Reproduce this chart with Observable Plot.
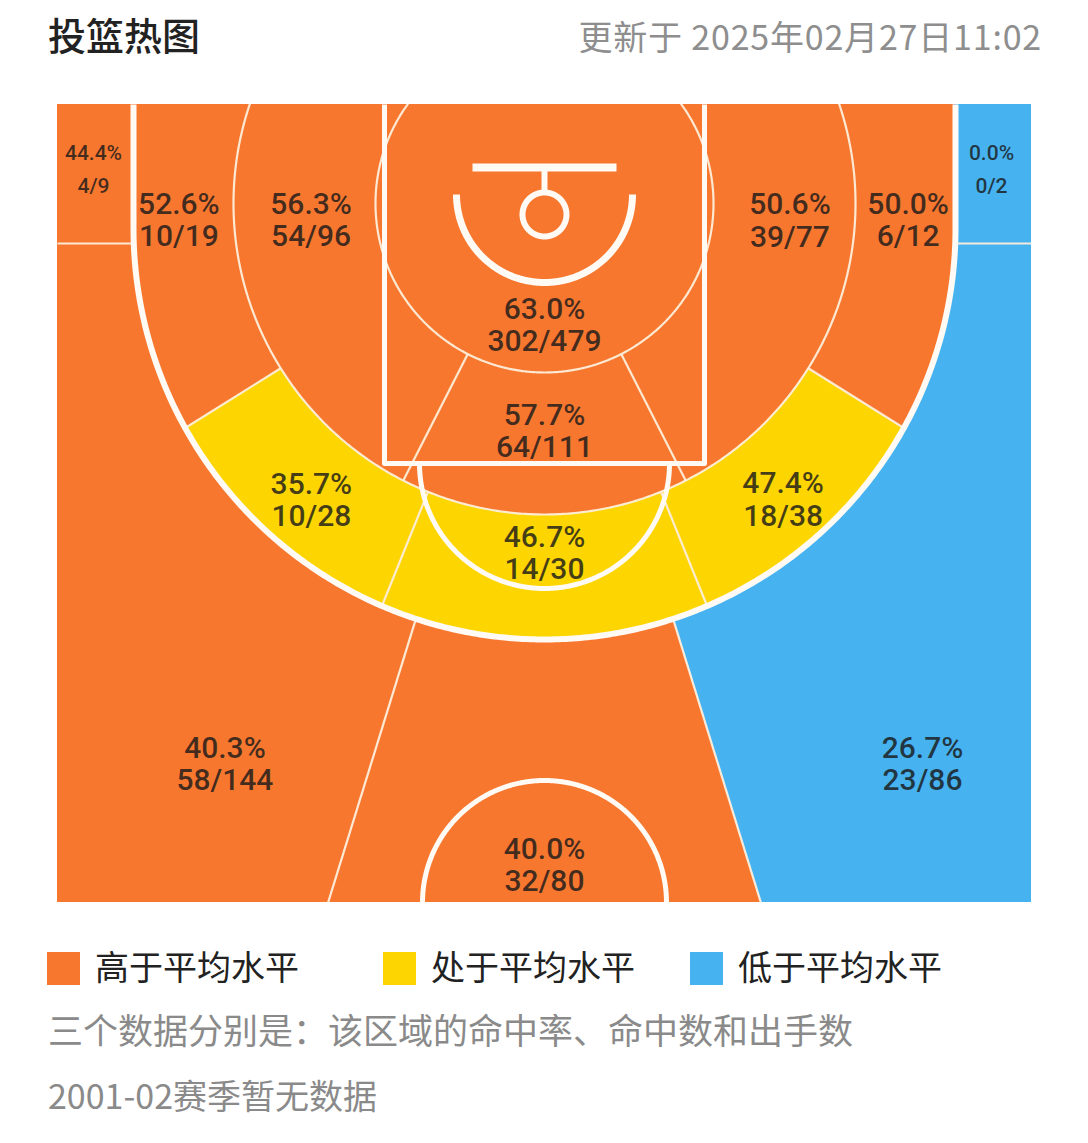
<!DOCTYPE html>
<html><head><meta charset="utf-8">
<script src="https://cdn.jsdelivr.net/npm/d3@7"></script>
<script src="https://cdn.jsdelivr.net/npm/@observablehq/plot@0.6"></script>
<style>
body{margin:0;background:#fff;}
#page{position:relative;width:1088px;height:1143px;overflow:hidden;font-family:"Noto Sans CJK SC","Noto Sans",sans-serif;}
.abs{position:absolute;white-space:nowrap;line-height:50px;}
#chart{position:absolute;left:0;top:80px;}
.sw{position:absolute;width:33px;height:33px;top:952px;}
</style></head>
<body><div id="page">
<div class="abs" style="left:48px;top:9px;font-size:38px;font-weight:500;color:#222;">投篮热图</div>
<div class="abs" style="right:46px;top:11px;font-size:34px;letter-spacing:0.8px;color:#8e8e8e;">更新于 2025年02月27日11:02</div>
<div id="chart"></div>
<div id="legend"></div>
<div class="abs" style="left:48px;top:1004px;font-size:35px;color:#8a8a8a;">三个数据分别是：该区域的命中率、命中数和出手数</div>
<div class="abs" style="left:48px;top:1070px;font-size:34px;color:#8a8a8a;">2001-02赛季暂无数据</div>
</div>
<script>
// ---------- data ----------
const zoneNames = ["左侧底角三分","左侧底线中投","左侧近距离","篮下","右侧近距离","右侧底线中投","右侧底角三分","罚球区","左侧45度中投","正面中投","右侧45度中投","左侧45度三分","正面三分","右侧45度三分"];
const pctLabels = ["44.4%","52.6%","56.3%","63.0%","50.6%","50.0%","0.0%","57.7%","35.7%","46.7%","47.4%","40.3%","40.0%","26.7%"];
const made      = [4, 10, 54, 302, 39, 6, 0, 64, 10, 14, 18, 58, 32, 23];
const attempts  = [9, 19, 96, 479, 77, 12, 2, 111, 28, 30, 38, 144, 80, 86];
const zoneLevel = ["高于平均水平","高于平均水平","高于平均水平","高于平均水平","高于平均水平","高于平均水平","低于平均水平","高于平均水平","处于平均水平","处于平均水平","处于平均水平","高于平均水平","高于平均水平","低于平均水平"];
const levelNames  = ["高于平均水平","处于平均水平","低于平均水平"];
const levelColors = ["#F8772F","#FDD500","#46B2F0"];

// ---------- court geometry (court units) ----------
const HALF_W = 487, LEN = 798;
const HOOP = [0, 99];
const R_A = 169, R_M = 311;
const ARC_C = [0, 124], ARC_R = 411, CORNER_Y = 139, FAR = 1400;
const A_PAINT = 27, A_MID = 22, A_SIDE = 58, A_LONG = 17.2;
const PAINT_HW = 160, PAINT_L = 359, FT_R = 125, RESTR_C = [0, 90], RESTR_R = 88;
const BOARD_Y = 63, BOARD_HW = 72, RIM_C = [0, 110], RIM_R = 22, CENTER_R = 122;

const rad = d => d * Math.PI / 180;
function pt(r, deg, c = HOOP) { const a = rad(deg); return [c[0] + r * Math.sin(a), c[1] + r * Math.cos(a)]; }
function outer3(deg) {
  const a = rad(deg), s = Math.sin(a), c = Math.cos(a);
  const dC = HOOP[1] - ARC_C[1];
  const b = c * dC;
  let t = -b + Math.sqrt(b * b - (dC * dC - ARC_R * ARC_R));
  if (HOOP[1] + t * c < ARC_C[1]) t = Math.abs(s) > 1e-9 ? ARC_R / Math.abs(s) : Infinity;
  if (c < 0) t = Math.min(t, HOOP[1] / (-c));
  return t;
}
const outerFns = {
  far: () => FAR,
  three: outer3,
  mid: deg => { const c = Math.cos(rad(deg)); return c < 0 ? Math.min(R_M, HOOP[1] / (-c)) : R_M; },
  rim: () => R_A
};
const layerOf = {far: 0, rect: 1, three: 2, mid: 3, rim: 4};
const shapes = {
  "左侧底角三分": {kind: "rect", box: [-HALF_W, -ARC_R, 0, CORNER_Y], small: true},
  "右侧底角三分": {kind: "rect", box: [ARC_R, HALF_W, 0, CORNER_Y], small: true},
  "左侧底线中投": {kind: "three", t: [-180, -A_SIDE], lab: [366, -87.4]},
  "左侧近距离":   {kind: "mid", t: [-180, -A_PAINT], lab: [234, -86]},
  "篮下":         {kind: "rim", t: [-180, 180], lab: [121, 0]},
  "右侧近距离":   {kind: "mid", t: [A_PAINT, 180], lab: [246, 86.1]},
  "右侧底线中投": {kind: "three", t: [A_SIDE, 180], lab: [364, 87.4]},
  "罚球区":       {kind: "mid", t: [-A_PAINT, A_PAINT], lab: [227, 0]},
  "左侧45度中投": {kind: "three", t: [-A_SIDE, -A_MID], lab: [377, -38.2]},
  "正面中投":     {kind: "three", t: [-A_MID, A_MID], lab: [349, 0]},
  "右侧45度中投": {kind: "three", t: [A_MID, A_SIDE], lab: [380, 38.9]},
  "左侧45度三分": {kind: "far", t: [-180, -A_LONG], lab: [645, -29.7]},
  "正面三分":     {kind: "far", t: [-A_LONG, A_LONG], lab: [661, 0]},
  "右侧45度三分": {kind: "far", t: [A_LONG, 180], lab: [676, 34]}
};

const zones = zoneNames.map((name, i) => ({name, pct: pctLabels[i], made: made[i], att: attempts[i], level: zoneLevel[i], shape: shapes[name]}));

// polygon rows
const layers = [[], [], [], [], []];
for (const z of zones) {
  const s = z.shape;
  let verts, anchor;
  if (s.kind === "rect") {
    const [x0, x1, y0, y1] = s.box;
    verts = [[x0, y0], [x1, y0], [x1, y1], [x0, y1]];
    anchor = verts[0];
  } else {
    const fn = outerFns[s.kind];
    const n = Math.max(2, Math.ceil((s.t[1] - s.t[0]) / 0.25));
    verts = d3.range(n + 1).map(k => { const d = s.t[0] + (s.t[1] - s.t[0]) * k / n; return pt(fn(d), d); });
    anchor = HOOP;
  }
  for (const v of verts) layers[layerOf[s.kind]].push({zone: z.name, level: z.level, x: v[0], y: v[1], cx: anchor[0], cy: anchor[1]});
}

// labels
const labels = zones.map(z => {
  const s = z.shape;
  const p = s.kind === "rect" ? [(s.box[0] + s.box[1]) / 2 - 2, (s.box[2] + s.box[3]) * 0.44] : pt(s.lab[0], s.lab[1]);
  return {x: p[0], y: p[1], text: `${z.pct}\n${z.made}/${z.att}`, small: !!s.small};
});

// thin zone boundaries
const thin = [];
let sid = 0;
function addPath(arr, pts) { const id = sid++; for (const p of pts) arr.push({id, x: p[0], y: p[1]}); }
function arcPts(c, r, d0, d1) { const n = Math.ceil(Math.abs(d1 - d0) / 0.5); return d3.range(n + 1).map(k => pt(r, d0 + (d1 - d0) * k / n, c)); }
addPath(thin, arcPts(HOOP, R_A, -180, 180));
addPath(thin, arcPts(HOOP, R_M, -180, 180));
for (const sg of [-1, 1]) {
  addPath(thin, [pt(R_A, sg * A_PAINT), pt(R_M, sg * A_PAINT)]);
  for (const a of [A_MID, A_SIDE]) addPath(thin, [pt(R_M, sg * a), pt(outer3(sg * a), sg * a)]);
  addPath(thin, [pt(outer3(sg * A_LONG), sg * A_LONG), pt((LEN - HOOP[1]) / Math.cos(rad(A_LONG)), sg * A_LONG)]);
  const xc = Math.sqrt(ARC_R * ARC_R - (CORNER_Y - ARC_C[1]) ** 2);
  addPath(thin, [[sg * HALF_W, CORNER_Y], [sg * xc, CORNER_Y]]);
}

// court markings
const three = [], paint = [], restr = [], board = [], rim = [];
addPath(three, [[-ARC_R, 0], [-ARC_R, ARC_C[1]], ...arcPts(ARC_C, ARC_R, -90, 90), [ARC_R, ARC_C[1]], [ARC_R, 0]]);
addPath(paint, [[-PAINT_HW, 0], [-PAINT_HW, PAINT_L], [PAINT_HW, PAINT_L], [PAINT_HW, 0]]);
addPath(paint, arcPts([0, PAINT_L], FT_R, -90, 90));
addPath(paint, arcPts([0, LEN], CENTER_R, 90, 270));
addPath(restr, arcPts(RESTR_C, RESTR_R, -90, 90));
addPath(board, [[-BOARD_HW, BOARD_Y], [BOARD_HW, BOARD_Y]]);
addPath(rim, [[0, BOARD_Y], [0, RIM_C[1] - RIM_R]]);
addPath(rim, arcPts(RIM_C, RIM_R, -180, 180));

const W = "#fffaf3";
const areaMark = rows => Plot.area(rows, {x1: "x", y1: "y", x2: "cx", y2: "cy", z: "zone", fill: "level", clip: true, curve: "linear"});
const lineMark = (rows, w, stroke = W, extra = {}) => Plot.line(rows, {x: "x", y: "y", z: "id", stroke, strokeWidth: w, clip: true, curve: "linear", strokeLinecap: "butt", ...extra});

const chart = Plot.plot({
  width: 1088, height: 850,
  marginLeft: 57, marginRight: 57, marginTop: 24, marginBottom: 28,
  x: {domain: [-HALF_W, HALF_W], axis: null},
  y: {domain: [0, LEN], range: [24, 822], axis: null},
  color: {domain: levelNames, range: levelColors},
  style: {background: "transparent", overflow: "visible"},
  marks: [
    ...layers.map(areaMark),
    lineMark(thin, 2.2, "#fdeedb", {strokeOpacity: 0.95}),
    lineMark(three, 6),
    lineMark(paint, 5),
    lineMark(restr, 7),
    lineMark(board, 8),
    lineMark(rim, 6),
    Plot.text(labels.filter(d => !d.small), {x: "x", y: "y", text: "text", fontSize: 30, fontWeight: 500, lineHeight: 1.07, fill: "#1a1a1a", fillOpacity: 0.82, fontFamily: "Roboto"}),
    Plot.text(labels.filter(d => d.small), {x: "x", y: "y", text: "text", fontSize: 21, fontWeight: 500, lineHeight: 1.6, fill: "#1a1a1a", fillOpacity: 0.82, fontFamily: "Roboto"})
  ]
});
document.getElementById("chart").appendChild(chart);

// legend
const legendX = [47, 383, 690];
const legend = document.getElementById("legend");
levelNames.forEach((name, i) => {
  const sw = document.createElement("div");
  sw.className = "sw"; sw.style.left = legendX[i] + "px"; sw.style.background = levelColors[i];
  legend.appendChild(sw);
  const t = document.createElement("div");
  t.className = "abs"; t.style.left = (legendX[i] + 48) + "px"; t.style.top = "941px";
  t.style.fontSize = "34px"; t.style.color = "#222"; t.textContent = name;
  legend.appendChild(t);
});
</script>
</body></html>
